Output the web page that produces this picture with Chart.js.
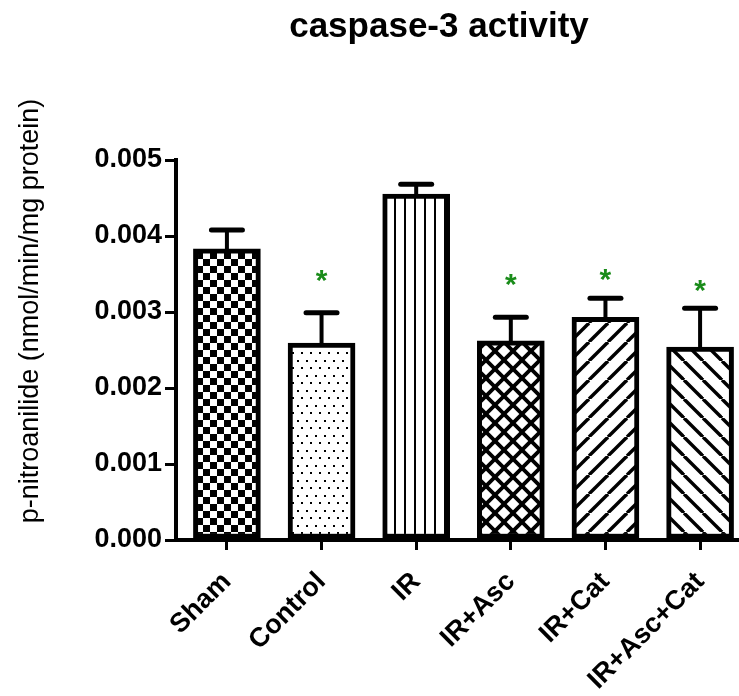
<!DOCTYPE html>
<html><head><meta charset="utf-8">
<script src="https://cdn.jsdelivr.net/npm/chart.js@4/dist/chart.umd.min.js"></script>
<style>html,body{margin:0;padding:0;background:#fff}canvas{display:block}</style>
</head><body>
<canvas id="c" width="739" height="696"></canvas>
<script>
// ---- data ----
const categories = ['Sham', 'Control', 'IR', 'IR+Asc', 'IR+Cat', 'IR+Asc+Cat'];
const means = [0.00383, 0.00259, 0.00455, 0.00262, 0.00293, 0.00254];
const errors = [0.00025, 0.00040, 0.00013, 0.00031, 0.00025, 0.00051];
const markers = ['', '*', '', '*', '*', '*'];
const markerLevels = [null, 0.00351, null, 0.00346, 0.00353, 0.00338];
const yTickValues = [0, 0.001, 0.002, 0.003, 0.004, 0.005];
const yTickLabels = ['0.000', '0.001', '0.002', '0.003', '0.004', '0.005'];
const titleText = 'caspase-3 activity';
const yTitleText = 'p-nitroanilide (nmol/min/mg protein)';
const patternKinds = ['checker', 'dots', 'vlines', 'cross', 'fwd', 'back'];

const FONT = "'Liberation Sans', Arial, Helvetica, sans-serif";
Chart.defaults.color = '#000';
Chart.defaults.font.family = FONT;

function makePattern(kind) {
  const c = document.createElement('canvas');
  let w = 14, h = 14;
  if (kind === 'dots') { w = 18; h = 15; }
  if (kind === 'vlines') { w = 10; h = 10; }
  if (kind === 'cross') { w = 18; h = 18; }
  if (kind === 'fwd' || kind === 'back') { w = 19; h = 19; }
  c.width = w; c.height = h;
  const g = c.getContext('2d');
  g.fillStyle = '#fff'; g.fillRect(0, 0, w, h);
  g.fillStyle = '#000'; g.strokeStyle = '#000';
  if (kind === 'checker') {
    g.fillRect(0, 0, 7, 7); g.fillRect(7, 7, 7, 7);
  } else if (kind === 'dots') {
    g.fillRect(0, 0, 2, 2); g.fillRect(9, 0, 2, 2);
    g.fillRect(4, 7, 2, 2); g.fillRect(13, 7, 2, 2);
  } else if (kind === 'vlines') {
    g.fillRect(4, 0, 2, h);
  } else {
    g.lineWidth = kind === 'cross' ? 3.8 : 3.4;
    for (let k = -1; k <= 1; k++) {
      if (kind === 'fwd' || kind === 'cross') {
        g.beginPath(); g.moveTo(k * w, h); g.lineTo(k * w + w, 0); g.stroke();
      }
      if (kind === 'back' || kind === 'cross') {
        g.beginPath(); g.moveTo(k * w, 0); g.lineTo(k * w + w, h); g.stroke();
      }
    }
  }
  const ctx = document.getElementById('c').getContext('2d');
  return ctx.createPattern(c, 'repeat');
}

const extras = {
  id: 'extras',
  afterDatasetsDraw(chart) {
    const ctx = chart.ctx;
    const y = chart.scales.y;
    const meta = chart.getDatasetMeta(0);
    ctx.save();
    ctx.strokeStyle = '#000';
    meta.data.forEach((bar, i) => {
      const x = bar.x;
      const base = y.getPixelForValue(means[i]);
      const top = y.getPixelForValue(means[i] + errors[i]);
      ctx.lineCap = 'butt';
      ctx.lineWidth = 4;
      ctx.beginPath(); ctx.moveTo(x, base + 3); ctx.lineTo(x, top); ctx.stroke();
      ctx.lineCap = 'round';
      ctx.lineWidth = 5;
      ctx.beginPath(); ctx.moveTo(x - 15.5, top); ctx.lineTo(x + 15.5, top); ctx.stroke();
    });
    // significance markers
    ctx.fillStyle = '#1a8c1a';
    ctx.font = 'bold 30px ' + FONT;
    ctx.textAlign = 'center';
    ctx.textBaseline = 'alphabetic';
    meta.data.forEach((bar, i) => {
      if (!markers[i]) return;
      const yy = y.getPixelForValue(markerLevels[i]);
      ctx.fillText(markers[i], bar.x, yy + 0.57 * 30);
    });
    ctx.restore();
  },
  afterDraw(chart) {
    const ctx = chart.ctx;
    ctx.save();
    ctx.fillStyle = '#000';
    ctx.textAlign = 'center';
    ctx.textBaseline = 'middle';
    ctx.font = 'bold 35px ' + FONT;
    ctx.fillText(titleText, 439, 27);
    ctx.translate(31, 311);
    ctx.rotate(-Math.PI / 2);
    ctx.font = '27px ' + FONT;
    ctx.fillText(yTitleText, 0, 0);
    ctx.restore();
  }
};

new Chart(document.getElementById('c'), {
  type: 'bar',
  data: {
    datasets: [{
      data: means.map((v, i) => ({ x: i, y: v })),
      backgroundColor: patternKinds.map(makePattern),
      borderColor: '#000',
      borderWidth: 5,
      borderSkipped: false,
      barThickness: 67
    }]
  },
  options: {
    responsive: false,
    animation: false,
    events: [],
    layout: { padding: { top: 160, right: 0, bottom: 0, left: 0 } },
    plugins: { legend: { display: false }, tooltip: { enabled: false }, title: { display: false } },
    scales: {
      x: {
        type: 'linear',
        offset: false,
        min: -0.538,
        max: 5.401,
        afterFit(scale) { scale.height = 156; },
        afterBuildTicks(scale) { scale.ticks = categories.map((_, i) => ({ value: i })); },
        grid: { offset: false, drawOnChartArea: false, drawTicks: true, tickLength: 10, color: '#000', lineWidth: 3 },
        border: { display: true, color: '#000', width: 4 },
        ticks: {
          autoSkip: false,
          minRotation: 45, maxRotation: 45,
          padding: 16,
          font: { size: 27, weight: 'bold' },
          callback: (v) => categories[v]
        }
      },
      y: {
        min: 0, max: 0.005,
        afterFit(scale) { scale.width = 176; },
        afterBuildTicks(scale) { scale.ticks = yTickValues.map(v => ({ value: v })); },
        grid: { drawOnChartArea: false, drawTicks: true, tickLength: 11, color: '#000', lineWidth: 3 },
        border: { display: true, color: '#000', width: 4 },
        ticks: {
          padding: 3,
          font: { size: 27, weight: 'bold' },
          callback: (v) => yTickLabels[yTickValues.indexOf(v)]
        }
      }
    }
  },
  plugins: [extras]
});
</script>
</body></html>
